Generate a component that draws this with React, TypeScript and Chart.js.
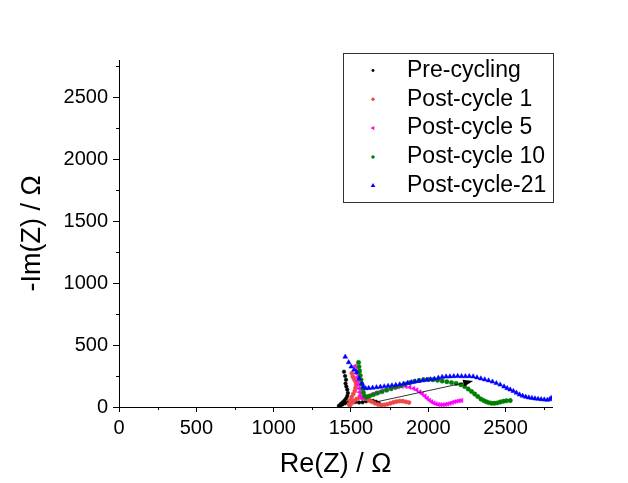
import React, { useEffect, useRef } from "react";
import { Chart, registerables } from "chart.js";

Chart.register(...registerables);

const FONT = "'Liberation Sans', Arial, sans-serif";

const seriesLabels = ["Pre-cycling", "Post-cycle 1", "Post-cycle 5", "Post-cycle 10", "Post-cycle-21"];
const seriesColors = ["#000000", "#f04848", "#ff00ff", "#008000", "#0000ff"];

const blackX = [1455, 1462, 1468, 1465, 1470, 1476, 1480, 1476, 1468, 1458, 1446, 1434, 1422, 1430, 1445, 1462, 1482, 1505, 1528, 1552, 1575, 1598, 1620, 1642, 1662, 1680];
const blackY = [285, 250, 220, 190, 165, 140, 112, 88, 68, 52, 38, 24, 10, 8, 20, 30, 38, 42, 40, 36, 38, 46, 52, 50, 42, 30];

const redX = [1506, 1512, 1520, 1530, 1534, 1530, 1525, 1515, 1505, 1495, 1488, 1492, 1505, 1520, 1538, 1556, 1575, 1595, 1615, 1635, 1655, 1675, 1695, 1715, 1735, 1755, 1775, 1795, 1815, 1835, 1855, 1875];
const redY = [272, 245, 225, 205, 180, 155, 130, 105, 80, 55, 25, 12, 30, 50, 65, 75, 75, 68, 55, 42, 30, 20, 16, 17, 22, 30, 38, 44, 48, 47, 42, 36];

const magX = [1527, 1532, 1536, 1540, 1544, 1548, 1552, 1556, 1560, 1570, 1585, 1605, 1630, 1655, 1680, 1705, 1730, 1755, 1780, 1805, 1830, 1855, 1880, 1905, 1925, 1945, 1962, 1978, 1993, 2008, 2022, 2036, 2050, 2065, 2080, 2095, 2110, 2125, 2140, 2155, 2170, 2185, 2200, 2215];
const magY = [330, 300, 270, 240, 210, 180, 150, 120, 95, 75, 75, 85, 98, 110, 120, 130, 140, 148, 156, 162, 166, 165, 160, 150, 138, 122, 105, 88, 70, 55, 42, 32, 25, 20, 18, 18, 20, 24, 30, 36, 42, 47, 50, 52];

const greenX = [1549, 1552, 1556, 1560, 1565, 1570, 1575, 1580, 1588, 1600, 1620, 1645, 1670, 1700, 1730, 1760, 1790, 1820, 1850, 1880, 1910, 1940, 1970, 2000, 2030, 2060, 2090, 2120, 2150, 2180, 2210, 2235, 2258, 2280, 2300, 2320, 2340, 2358, 2375, 2392, 2410, 2428, 2446, 2465, 2485, 2505, 2530];
const greenY = [360, 325, 290, 255, 220, 185, 150, 118, 90, 80, 88, 100, 112, 124, 136, 148, 160, 172, 184, 196, 206, 214, 220, 222, 220, 216, 210, 204, 197, 190, 180, 165, 145, 125, 105, 85, 65, 52, 42, 35, 30, 30, 33, 40, 46, 50, 52];

const blueX = [1463, 1485, 1502, 1520, 1538, 1553, 1571, 1581, 1595, 1615, 1640, 1665, 1690, 1715, 1740, 1765, 1790, 1815, 1840, 1865, 1890, 1915, 1940, 1965, 1990, 2015, 2040, 2065, 2090, 2115, 2140, 2165, 2190, 2215, 2240, 2265, 2290, 2315, 2340, 2365, 2390, 2415, 2440, 2465, 2490, 2510, 2530, 2550, 2570, 2590, 2610, 2630, 2650, 2670, 2690, 2710, 2730, 2750, 2770, 2785, 2795];
const blueY = [405, 360, 325, 300, 280, 230, 190, 162, 150, 152, 155, 158, 162, 166, 170, 174, 178, 182, 188, 193, 199, 205, 210, 215, 219, 223, 228, 235, 242, 245, 246, 248, 249, 248, 247, 248, 246, 238, 230, 222, 214, 204, 192, 180, 165, 151, 140, 128, 115, 100, 90, 82, 76, 72, 68, 65, 62, 60, 57, 62, 72];

const arrowX = [1660, 2290];
const arrowY = [40, 210];

const xTickValues = [0, 500, 1000, 1500, 2000, 2500];
const yTickValues = [0, 500, 1000, 1500, 2000, 2500];
const xMinorTicks = [250, 750, 1250, 1750, 2250, 2750];
const yMinorTicks = [250, 750, 1250, 1750, 2250, 2750];

const toPts = (xs: number[], ys: number[]) => xs.map((x, i) => ({ x, y: ys[i] }));

const pointStyles = ["circle", "circle", "triangle", "circle", "triangle"];
const pointRotations = [0, 0, -90, 0, 0];
const pointRadii = [1.8, 2.1, 2.6, 2.2, 2.8];

const extrasPlugin = {
  id: "extras",
  afterDatasetsDraw(chart: any) {
    const { ctx, scales } = chart;
    const xs = scales.x;
    const ys = scales.y;
    ctx.save();
    ctx.strokeStyle = "#000";
    ctx.lineWidth = 1;
    ctx.beginPath();
    xMinorTicks.forEach((v) => {
      const px = Math.round(xs.getPixelForValue(v)) + 0.5;
      ctx.moveTo(px, ys.bottom);
      ctx.lineTo(px, ys.bottom + 3);
    });
    yMinorTicks.forEach((v) => {
      const py = Math.round(ys.getPixelForValue(v)) + 0.5;
      ctx.moveTo(xs.left, py);
      ctx.lineTo(xs.left - 3, py);
    });
    ctx.stroke();

    const x0 = xs.getPixelForValue(arrowX[0]);
    const y0 = ys.getPixelForValue(arrowY[0]);
    const x1 = xs.getPixelForValue(arrowX[1]);
    const y1 = ys.getPixelForValue(arrowY[1]);
    const ang = Math.atan2(y1 - y0, x1 - x0);
    const hl = 10;
    const hw = 3.5;
    ctx.lineWidth = 0.8;
    ctx.beginPath();
    ctx.moveTo(x0, y0);
    ctx.lineTo(x1 - hl * Math.cos(ang), y1 - hl * Math.sin(ang));
    ctx.stroke();
    ctx.fillStyle = "#000";
    ctx.beginPath();
    ctx.moveTo(x1, y1);
    ctx.lineTo(x1 - hl * Math.cos(ang) + hw * Math.sin(ang), y1 - hl * Math.sin(ang) - hw * Math.cos(ang));
    ctx.lineTo(x1 - hl * Math.cos(ang) - hw * Math.sin(ang), y1 - hl * Math.sin(ang) + hw * Math.cos(ang));
    ctx.closePath();
    ctx.fill();

    const area = chart.chartArea;
    const boxRight = area.right + 1;
    const boxLeft = boxRight - 210;
    const boxTop = area.top - 7;
    const boxH = 149;
    ctx.fillStyle = "#fff";
    ctx.fillRect(boxLeft, boxTop, boxRight - boxLeft, boxH);
    ctx.strokeStyle = "#333";
    ctx.lineWidth = 1;
    ctx.strokeRect(Math.round(boxLeft) + 0.5, Math.round(boxTop) + 0.5, boxRight - boxLeft, boxH);
    ctx.font = `23px ${FONT}`;
    ctx.textBaseline = "middle";
    ctx.textAlign = "left";
    seriesLabels.forEach((lab, i) => {
      const cy = boxTop + 17.5 + i * 28.8;
      const mx = boxLeft + 30;
      ctx.fillStyle = seriesColors[i];
      const r = pointRadii[i] * 0.8;
      ctx.beginPath();
      if (pointStyles[i] === "triangle") {
        const rot = (pointRotations[i] * Math.PI) / 180;
        for (let k = 0; k < 3; k++) {
          const a = rot - Math.PI / 2 + (k * 2 * Math.PI) / 3;
          const px = mx + r * 1.2 * Math.cos(a);
          const py = cy + r * 1.2 * Math.sin(a);
          if (k === 0) ctx.moveTo(px, py);
          else ctx.lineTo(px, py);
        }
        ctx.closePath();
      } else {
        ctx.arc(mx, cy, r, 0, Math.PI * 2);
      }
      ctx.fill();
      ctx.fillStyle = "#000";
      ctx.fillText(lab, boxLeft + 64, cy);
    });
    ctx.restore();
  },
};

export default function App() {
  const ref = useRef<HTMLCanvasElement | null>(null);
  useEffect(() => {
    document.body.style.margin = "0";
    document.body.style.background = "#fff";
    const canvas = ref.current;
    if (!canvas) return;
    const xsArr = [blackX, redX, magX, greenX, blueX];
    const ysArr = [blackY, redY, magY, greenY, blueY];
    const datasets = seriesLabels.map((label, i) => ({
      label,
      data: toPts(xsArr[i], ysArr[i]),
      showLine: false,
      pointStyle: pointStyles[i],
      rotation: pointRotations[i],
      pointRadius: pointRadii[i],
      pointBackgroundColor: seriesColors[i],
      pointBorderColor: seriesColors[i],
      pointBorderWidth: 0.5,
      backgroundColor: seriesColors[i],
      borderColor: seriesColors[i],
      order: 4 - i,
    }));
    const tickFont = { family: FONT, size: 20 };
    const titleFont = { family: FONT, size: 27 };
    const plain = (v: any) => String(v);
    const chart = new Chart(canvas, {
      type: "scatter",
      data: { datasets: datasets as any },
      options: {
        animation: false,
        responsive: false,
        devicePixelRatio: 1,
        layout: { padding: { top: 60, right: 76, left: 0, bottom: 0 } },
        plugins: { legend: { display: false }, tooltip: { enabled: false } },
        scales: {
          x: {
            type: "linear",
            min: 0,
            max: 2800,
            afterBuildTicks: (s: any) => {
              s.ticks = xTickValues.map((v) => ({ value: v }));
            },
            ticks: { color: "#000", font: tickFont, padding: 4, maxRotation: 0, autoSkip: false, callback: plain },
            grid: { drawOnChartArea: false, drawTicks: true, tickLength: 5, color: "#000", lineWidth: 1 },
            border: { display: true, color: "#000", width: 1 },
            title: { display: true, text: "Re(Z) / Ω", color: "#000", font: titleFont, padding: { top: 0, bottom: 2 } },
            afterFit: (s: any) => {
              s.height = 76;
            },
          },
          y: {
            type: "linear",
            min: 0,
            max: 2800,
            afterBuildTicks: (s: any) => {
              s.ticks = yTickValues.map((v) => ({ value: v }));
            },
            ticks: { color: "#000", font: tickFont, padding: 5, autoSkip: false, callback: plain },
            grid: { drawOnChartArea: false, drawTicks: true, tickLength: 6, color: "#000", lineWidth: 1 },
            border: { display: true, color: "#000", width: 1 },
            title: { display: true, text: "-Im(Z) / Ω", color: "#000", font: titleFont, padding: { top: 16, bottom: 0 } },
            afterFit: (s: any) => {
              s.width = 119;
            },
          },
        },
      },
      plugins: [extrasPlugin],
    });
    return () => chart.destroy();
  }, []);
  return (
    <div style={{ width: 628, height: 483, background: "#fff" }}>
      <canvas ref={ref} width={628} height={483} style={{ display: "block" }} />
    </div>
  );
}
